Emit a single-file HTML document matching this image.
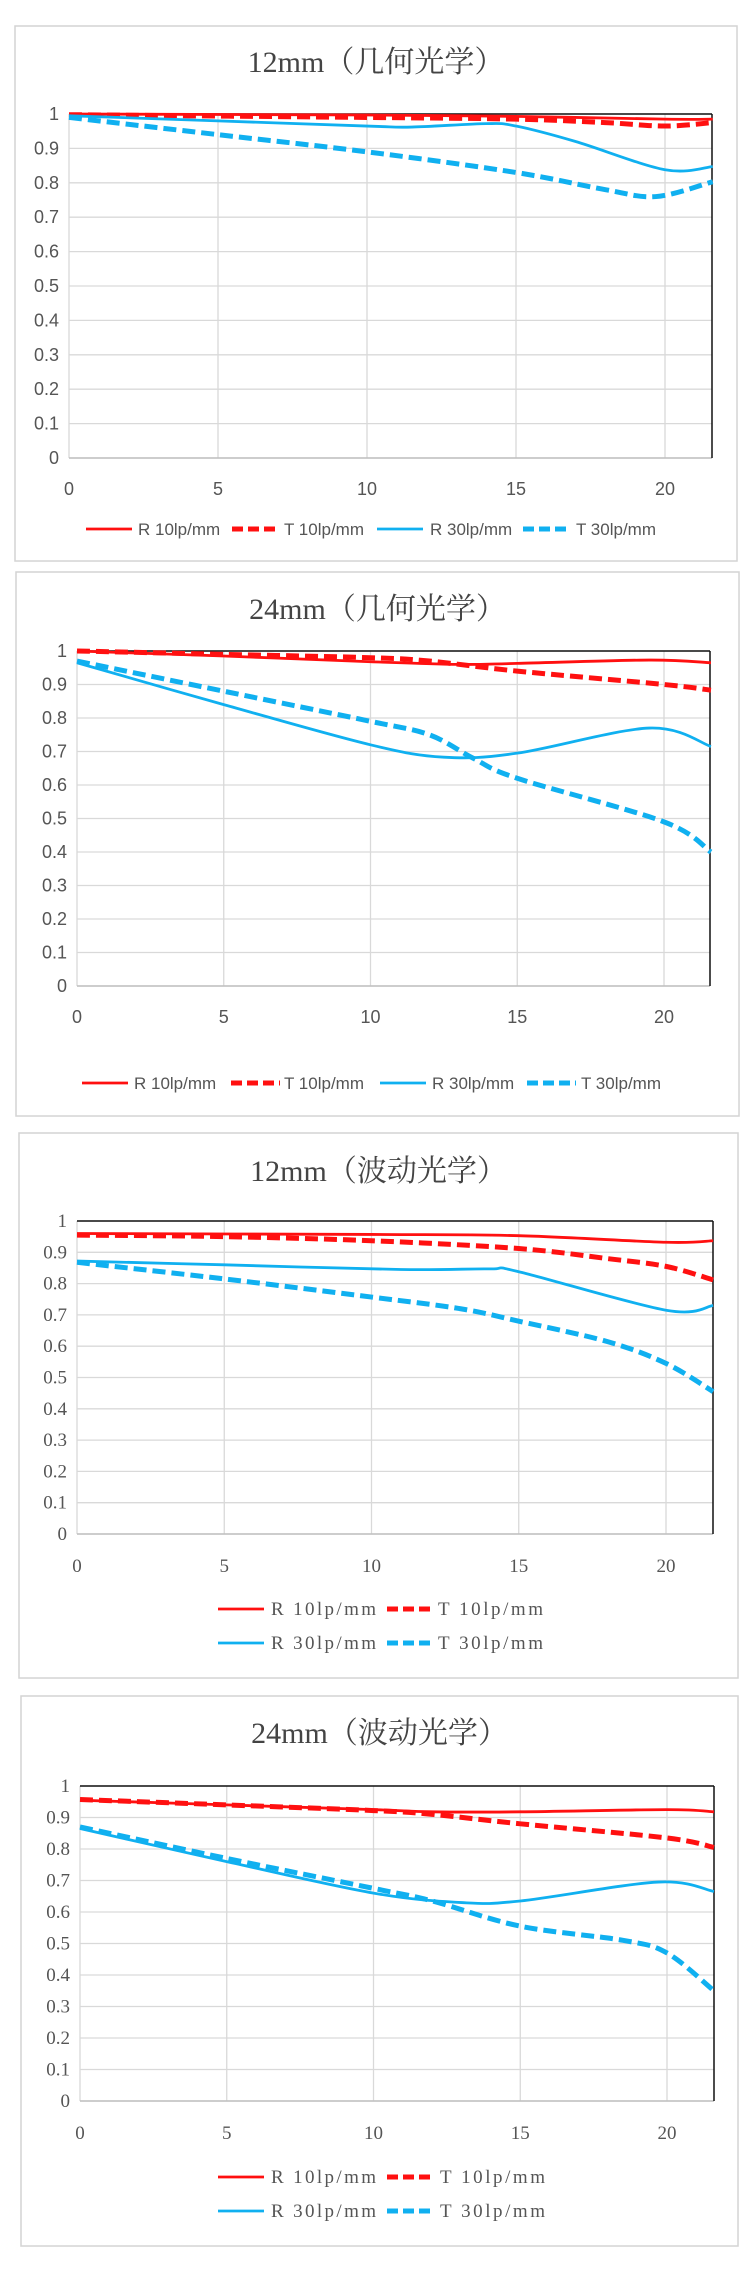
<!DOCTYPE html>
<html><head><meta charset="utf-8">
<style>
html,body{margin:0;padding:0;background:#fff;}
body{width:750px;height:2278px;position:relative;overflow:hidden;}
svg{position:absolute;left:0;top:0;}
</style></head>
<body>
<svg id="s" width="750" height="2278" xmlns="http://www.w3.org/2000/svg"></svg>
<script>
var NS="http://www.w3.org/2000/svg",S=document.getElementById('s');
function el(t,a,txt){var e=document.createElementNS(NS,t);for(var k in a)e.setAttribute(k,a[k]);if(txt!=null)e.textContent=txt;S.appendChild(e);return e;}
var RED="#ff1010",BLUE="#10b0f0";
var charts=[
{box:[15,26,737,561],title:"12mm（几何光学）",ty:72,x0:69,x20:665,xr:712,y1:114,y0:458,xl:489,serif:false,
 leg:[[529,[[86,132,RED,0,"R 10lp/mm",138],[232,280,RED,1,"T 10lp/mm",284],[377,423,BLUE,0,"R 30lp/mm",430],[523,571,BLUE,1,"T 30lp/mm",576]]]],
 d:[[RED,0,[[0,1.0],[10,.997],[15,.993],[20,.985],[21.6,.985]]],
    [RED,1,[[0,.998],[10,.99],[15,.985],[18,.975],[20,.965],[21.6,.975]]],
    [BLUE,0,[[0,.995],[5,.98],[10,.965],[11.5,.962],[14,.972],[15,.965],[17,.92],[20,.838],[21.6,.847]]],
    [BLUE,1,[[0,.99],[5,.94],[10,.89],[15,.83],[18,.78],[19.7,.76],[21.6,.803]]]]},
{box:[16,572,739,1116],title:"24mm（几何光学）",ty:619,x0:77,x20:664,xr:710,y1:651,y0:986,xl:1017,serif:false,
 leg:[[1083,[[82,128,RED,0,"R 10lp/mm",134],[231,280,RED,1,"T 10lp/mm",284],[380,426,BLUE,0,"R 30lp/mm",432],[527,576,BLUE,1,"T 30lp/mm",581]]]],
 d:[[RED,0,[[0,1.0],[5,.985],[10,.968],[13,.96],[15,.963],[19.5,.973],[21.6,.965]]],
    [RED,1,[[0,1.0],[5,.99],[10,.98],[12,.97],[15,.94],[20,.90],[21.6,.883]]],
    [BLUE,0,[[0,.965],[5,.84],[10,.72],[12.5,.683],[15,.695],[19.5,.77],[21.6,.715]]],
    [BLUE,1,[[0,.97],[5,.88],[10,.79],[12,.75],[13.5,.68],[15,.62],[20,.49],[21.6,.40]]]]},
{box:[19,1133,738,1678],title:"12mm（波动光学）",ty:1181,x0:77,x20:666,xr:713,y1:1221,y0:1534,xl:1566,serif:true,
 leg:[[1609,[[218,264,RED,0,"R 10lp/mm",271],[387,435,RED,1,"T 10lp/mm",438]]],[1643,[[218,264,BLUE,0,"R 30lp/mm",271],[387,435,BLUE,1,"T 30lp/mm",438]]]],
 d:[[RED,0,[[0,.96],[10,.957],[15,.953],[20,.932],[21.6,.937]]],
    [RED,1,[[0,.955],[5,.95],[10,.937],[15,.912],[18,.88],[20,.855],[21.6,.812]]],
    [BLUE,0,[[0,.872],[5,.86],[11,.845],[14,.847],[15,.838],[20,.715],[21.6,.73]]],
    [BLUE,1,[[0,.868],[5,.815],[10,.757],[13,.72],[15,.68],[18,.615],[20,.545],[21.6,.455]]]]},
{box:[21,1696,738,2246],title:"24mm（波动光学）",ty:1743,x0:80,x20:667,xr:714,y1:1786,y0:2101,xl:2133,serif:true,
 leg:[[2177,[[218,264,RED,0,"R 10lp/mm",271],[387,435,RED,1,"T 10lp/mm",440]]],[2211,[[218,264,BLUE,0,"R 30lp/mm",271],[387,435,BLUE,1,"T 30lp/mm",440]]]],
 d:[[RED,0,[[0,.955],[5,.94],[10,.925],[12,.918],[15,.918],[20,.925],[21.6,.918]]],
    [RED,1,[[0,.957],[5,.94],[10,.922],[12,.91],[15,.88],[20,.835],[21.6,.805]]],
    [BLUE,0,[[0,.865],[5,.76],[10,.66],[13,.63],[15,.635],[19.7,.695],[21.6,.665]]],
    [BLUE,1,[[0,.87],[5,.77],[10,.675],[12,.635],[15,.555],[18.5,.51],[20,.47],[21.6,.35]]]]}
];
function path(p){var d="M"+p[0][0]+","+p[0][1];for(var i=0;i<p.length-1;i++){var a=p[i-1]||p[i],b=p[i],c=p[i+1],e=p[i+2]||c;
 d+=" C"+(b[0]+(c[0]-a[0])/6)+","+(b[1]+(c[1]-a[1])/6)+" "+(c[0]-(e[0]-b[0])/6)+","+(c[1]-(e[1]-b[1])/6)+" "+c[0]+","+c[1];}return d;}
charts.forEach(function(c){
 var F=c.serif?'"Liberation Serif","Noto Serif CJK SC",serif':'"Liberation Sans","Noto Sans CJK SC",sans-serif';
 el('rect',{x:c.box[0],y:c.box[1],width:c.box[2]-c.box[0],height:c.box[3]-c.box[1],fill:'#fff',stroke:'#d4d4d4','stroke-width':1.5});
 el('text',{x:(c.box[0]+c.box[2])/2,y:c.ty,'text-anchor':'middle','font-family':'"Liberation Serif","Noto Serif CJK SC",serif','font-size':30,fill:'#444'},c.title);
 var ux=(c.x20-c.x0)/20,uy=(c.y0-c.y1);
 function X(v){return c.x0+v*ux;} function Y(v){return c.y0-v*uy;}
 var fs=c.serif?19:18;
 for(var i=0;i<=10;i++){var y=Y(i/10);el('line',{x1:c.x0,y1:y,x2:c.xr,y2:y,stroke:'#d9d9d9','stroke-width':1.3});
  el('text',{x:c.x0-10,y:y+6,'text-anchor':'end','font-family':F,'font-size':fs,fill:'#555'},i==0?"0":i==10?"1":"0."+i);}
 for(var j=0;j<=20;j+=5){var x=X(j);el('line',{x1:x,y1:c.y1,x2:x,y2:c.y0,stroke:'#d9d9d9','stroke-width':1.3});
  el('text',{x:x,y:c.xl+6,'text-anchor':'middle','font-family':F,'font-size':fs,fill:'#555'},""+j);}
 el('line',{x1:c.x0,y1:c.y0,x2:c.xr,y2:c.y0,stroke:'#bfbfbf','stroke-width':1.5});
 el('line',{x1:c.x0,y1:c.y1,x2:c.xr,y2:c.y1,stroke:'#111','stroke-width':1.5});
 el('line',{x1:c.xr,y1:c.y1,x2:c.xr,y2:c.y0,stroke:'#111','stroke-width':1.5});
 c.d.forEach(function(s){var p=s[2].map(function(q){return [X(q[0]),Y(q[1])];});
  var a={d:path(p),fill:'none',stroke:s[0],'stroke-width':s[1]?5:2.8};if(s[1])a['stroke-dasharray']='13,6';el('path',a);});
 c.leg.forEach(function(row){row[1].forEach(function(it){var y=row[0];
  var a={x1:it[0],y1:y,x2:it[1],y2:y,stroke:it[2],'stroke-width':it[3]?5:2.8};if(it[3])a['stroke-dasharray']='11,5';el('line',a);
  var ta={x:it[5],y:y+6,'font-family':F,'font-size':c.serif?19:17,fill:'#555'};
  if(c.serif){ta['textLength']=105;ta['lengthAdjust']='spacing';}
  el('text',ta,it[4]);});});
});
</script>
</body></html>
